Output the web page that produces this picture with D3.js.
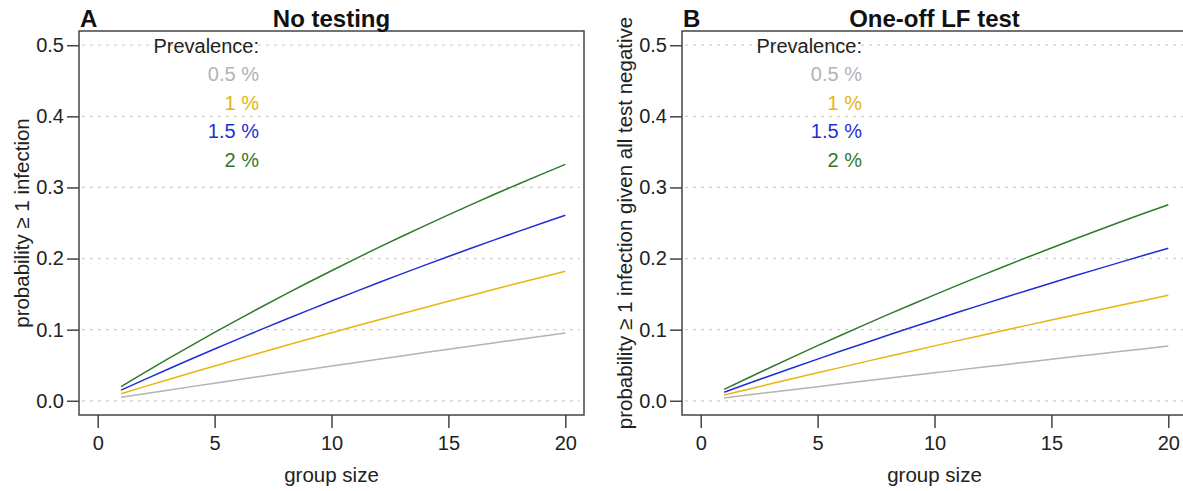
<!DOCTYPE html>
<html>
<head>
<meta charset="utf-8">
<script src="https://cdn.jsdelivr.net/npm/d3@7"></script>
<style>
  body { margin: 0; background: #fff; }
  svg { display: block; font-family: "Liberation Sans", Arial, Helvetica, sans-serif; }
</style>
</head>
<body>
<div id="chart"></div>
<script>
// group sizes on the x axis
const groupSize = [1,2,3,4,5,6,7,8,9,10,11,12,13,14,15,16,17,18,19,20];

// prevalence levels (legend)
const prevLabels = ["0.5 %", "1 %", "1.5 %", "2 %"];
const prevColors = ["#b3b3b3", "#e8b410", "#1f2fd6", "#2f7a2a"];

// panel A: no testing
const noTest05 = [.005,.0100,.0149,.0199,.0248,.0296,.0345,.0393,.0441,.0489,.0536,.0584,.0631,.0678,.0724,.0771,.0817,.0863,.0908,.0954];
const noTest1  = [.010,.0199,.0297,.0394,.0490,.0585,.0679,.0773,.0865,.0956,.1047,.1136,.1225,.1313,.1399,.1485,.1571,.1655,.1738,.1821];
const noTest15 = [.015,.0298,.0443,.0587,.0728,.0867,.1004,.1139,.1272,.1403,.1532,.1659,.1784,.1907,.2028,.2148,.2266,.2382,.2496,.2609];
const noTest2  = [.020,.0396,.0588,.0776,.0961,.1142,.1319,.1492,.1663,.1829,.1993,.2153,.2310,.2464,.2614,.2762,.2907,.3049,.3188,.3324];

// panel B: one-off LF test
const lfTest05 = [.004,.0080,.0120,.0159,.0198,.0238,.0277,.0316,.0354,.0393,.0431,.0470,.0508,.0546,.0583,.0621,.0659,.0696,.0733,.0770];
const lfTest1  = [.008,.0159,.0238,.0316,.0394,.0470,.0547,.0622,.0697,.0772,.0846,.0919,.0992,.1064,.1135,.1206,.1276,.1346,.1415,.1484];
const lfTest15 = [.012,.0239,.0356,.0471,.0586,.0699,.0810,.0921,.1030,.1137,.1244,.1349,.1452,.1555,.1656,.1757,.1855,.1953,.2050,.2145];
const lfTest2  = [.016,.0317,.0472,.0625,.0775,.0922,.1068,.1211,.1351,.1490,.1626,.1760,.1892,.2021,.2149,.2275,.2398,.2520,.2640,.2757];

// axis ticks
const xTicks = [0, 5, 10, 15, 20];
const yTicks = [0, 0.1, 0.2, 0.3, 0.4, 0.5];

const width = 1183, height = 491;
const plotTop = 31, plotBottom = 415;

const svg = d3.select("#chart").append("svg")
  .attr("width", width)
  .attr("height", height);

const panels = [
  { letter: "A", title: "No testing", left: 79,
    ylab: "probability \u2265 1 infection", ylabX: 21,
    series: [noTest05, noTest1, noTest15, noTest2] },
  { letter: "B", title: "One-off LF test", left: 682,
    ylab: "probability \u2265 1 infection given all test negative", ylabX: 624,
    series: [lfTest05, lfTest1, lfTest15, lfTest2] }
];

panels.forEach(p => {
  const right = p.left + 505;
  const x = d3.scaleLinear().domain([-0.8, 20.8]).range([p.left, right]);
  const y = d3.scaleLinear().domain([-0.02, 0.52]).range([plotBottom, plotTop]);

  const g = svg.append("g");

  // dotted grid
  g.selectAll(".grid")
    .data(yTicks)
    .join("line")
    .attr("x1", p.left + 3).attr("x2", right - 4)
    .attr("y1", d => y(d)).attr("y2", d => y(d))
    .attr("stroke", "#cfcfcf")
    .attr("stroke-width", 1.2)
    .attr("stroke-dasharray", "3,5");

  // lines
  const line = d3.line()
    .x((d, i) => x(groupSize[i]))
    .y(d => y(d));

  g.selectAll(".series")
    .data(p.series)
    .join("path")
    .attr("d", line)
    .attr("fill", "none")
    .attr("stroke", (d, i) => prevColors[i])
    .attr("stroke-width", 1.5);

  // box
  g.append("rect")
    .attr("x", p.left).attr("y", plotTop)
    .attr("width", right - p.left).attr("height", plotBottom - plotTop)
    .attr("fill", "none")
    .attr("stroke", "#444")
    .attr("stroke-width", 1.5);

  // axes
  const yAxis = d3.axisLeft(y).tickValues(yTicks).tickSize(12).tickPadding(3)
    .tickFormat(d3.format(".1f"));
  const ya = g.append("g")
    .attr("transform", "translate(" + p.left + ",0)")
    .call(yAxis);

  const xAxis = d3.axisBottom(x).tickValues(xTicks).tickSize(13).tickPadding(8);
  const xa = g.append("g")
    .attr("transform", "translate(0," + plotBottom + ")")
    .call(xAxis);

  [ya, xa].forEach(a => {
    a.select(".domain").remove();
    a.selectAll("line").attr("stroke", "#444").attr("stroke-width", 1.5);
    a.selectAll("text")
      .attr("font-size", "20px")
      .attr("fill", "#222")
      .attr("font-family", "Liberation Sans, Arial, sans-serif");
  });

  // titles
  g.append("text")
    .attr("x", p.left + 1).attr("y", 27)
    .attr("font-size", "24px").attr("font-weight", "bold")
    .attr("fill", "#111")
    .text(p.letter);

  g.append("text")
    .attr("x", (p.left + right) / 2).attr("y", 27)
    .attr("text-anchor", "middle")
    .attr("font-size", "24px").attr("font-weight", "bold")
    .attr("fill", "#111")
    .text(p.title);

  // axis labels
  g.append("text")
    .attr("x", x(10)).attr("y", 482)
    .attr("text-anchor", "middle")
    .attr("font-size", "20.5px").attr("fill", "#222")
    .text("group size");

  g.append("text")
    .attr("transform", "translate(" + p.ylabX + "," + y(0.25) + ") rotate(-90)")
    .attr("text-anchor", "middle")
    .attr("dominant-baseline", "central")
    .attr("font-size", "20.5px").attr("fill", "#222")
    .text(p.ylab);

  // legend
  const lx = x(6.9);
  g.append("text")
    .attr("x", lx).attr("y", 53)
    .attr("text-anchor", "end")
    .attr("font-size", "20px").attr("fill", "#222")
    .text("Prevalence:");

  g.selectAll(".leg")
    .data(prevLabels)
    .join("text")
    .attr("x", lx)
    .attr("y", (d, i) => 81 + i * 28.6)
    .attr("text-anchor", "end")
    .attr("font-size", "20px")
    .attr("fill", (d, i) => prevColors[i])
    .text(d => d);
});
</script>
</body>
</html>
